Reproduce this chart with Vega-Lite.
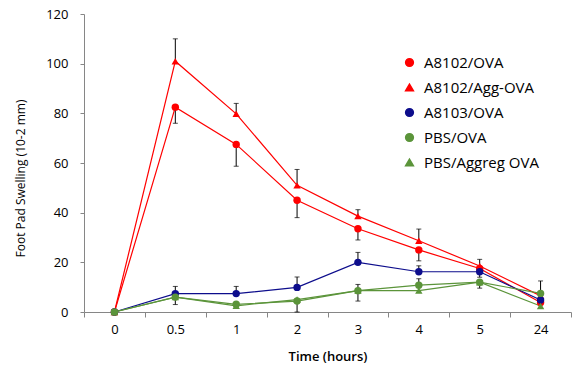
{
  "$schema": "https://vega.github.io/schema/vega-lite/v6.json",
  "autosize": {"type": "none"},
  "padding": {"left": 84, "top": 14, "right": 14, "bottom": 58},
  "width": 487,
  "height": 298,
  "config": {
    "view": {"stroke": null},
    "font": "Open Sans",
    "axis": {"labelFont": "Open Sans", "titleFont": "Open Sans", "labelColor": "#000000", "titleColor": "#000000", "domainColor": "#868686", "tickColor": "#868686", "grid": false}
  },
  "data": {
    "values": [
      {"series": "A8102/OVA", "t": "0", "v": 0, "lo": 0, "hi": 0},
      {"series": "A8102/OVA", "t": "0.5", "v": 82.5, "lo": 76, "hi": 82.5},
      {"series": "A8102/OVA", "t": "1", "v": 67.5, "lo": 58.7, "hi": 67.5},
      {"series": "A8102/OVA", "t": "2", "v": 45, "lo": 38, "hi": 45},
      {"series": "A8102/OVA", "t": "3", "v": 33.5, "lo": 29, "hi": 33.5},
      {"series": "A8102/OVA", "t": "4", "v": 25, "lo": 20.6, "hi": 25},
      {"series": "A8102/OVA", "t": "5", "v": 17.5, "lo": 17.5, "hi": 17.5},
      {"series": "A8102/OVA", "t": "24", "v": 3.8, "lo": 3.8, "hi": 3.8},
      {"series": "A8102/Agg-OVA", "t": "0", "v": 0, "lo": 0, "hi": 0},
      {"series": "A8102/Agg-OVA", "t": "0.5", "v": 101, "lo": 101, "hi": 110},
      {"series": "A8102/Agg-OVA", "t": "1", "v": 79.8, "lo": 79.8, "hi": 84},
      {"series": "A8102/Agg-OVA", "t": "2", "v": 51, "lo": 51, "hi": 57.4},
      {"series": "A8102/Agg-OVA", "t": "3", "v": 38.6, "lo": 38.6, "hi": 41.2},
      {"series": "A8102/Agg-OVA", "t": "4", "v": 28.7, "lo": 28.7, "hi": 33.4},
      {"series": "A8102/Agg-OVA", "t": "5", "v": 18.5, "lo": 18.5, "hi": 21.2},
      {"series": "A8102/Agg-OVA", "t": "24", "v": 6.5, "lo": 6.5, "hi": 6.5},
      {"series": "A8103/OVA", "t": "0", "v": 0, "lo": 0, "hi": 0},
      {"series": "A8103/OVA", "t": "0.5", "v": 7.4, "lo": 7.4, "hi": 10.3},
      {"series": "A8103/OVA", "t": "1", "v": 7.4, "lo": 7.4, "hi": 10.3},
      {"series": "A8103/OVA", "t": "2", "v": 9.9, "lo": 9.9, "hi": 14.1},
      {"series": "A8103/OVA", "t": "3", "v": 20, "lo": 20, "hi": 24},
      {"series": "A8103/OVA", "t": "4", "v": 16.2, "lo": 16.2, "hi": 18.6},
      {"series": "A8103/OVA", "t": "5", "v": 16.2, "lo": 14, "hi": 16.2},
      {"series": "A8103/OVA", "t": "24", "v": 4.8, "lo": 4.8, "hi": 4.8},
      {"series": "PBS/OVA", "t": "0", "v": 0, "lo": 0, "hi": 0},
      {"series": "PBS/OVA", "t": "0.5", "v": 6, "lo": 3, "hi": 6},
      {"series": "PBS/OVA", "t": "1", "v": 3.1, "lo": 1.5, "hi": 3.1},
      {"series": "PBS/OVA", "t": "2", "v": 4.4, "lo": 0, "hi": 4.4},
      {"series": "PBS/OVA", "t": "3", "v": 8.6, "lo": 8.6, "hi": 11.1},
      {"series": "PBS/OVA", "t": "4", "v": 10.8, "lo": 10.8, "hi": 13.4},
      {"series": "PBS/OVA", "t": "5", "v": 12, "lo": 9.6, "hi": 12},
      {"series": "PBS/OVA", "t": "24", "v": 7.5, "lo": 7.5, "hi": 12.5},
      {"series": "PBS/Aggreg OVA", "t": "0", "v": 0, "lo": 0, "hi": 0},
      {"series": "PBS/Aggreg OVA", "t": "0.5", "v": 6, "lo": 6, "hi": 6},
      {"series": "PBS/Aggreg OVA", "t": "1", "v": 2.5, "lo": 2.5, "hi": 2.5},
      {"series": "PBS/Aggreg OVA", "t": "2", "v": 5, "lo": 5, "hi": 5},
      {"series": "PBS/Aggreg OVA", "t": "3", "v": 8.6, "lo": 4.4, "hi": 8.6},
      {"series": "PBS/Aggreg OVA", "t": "4", "v": 8.6, "lo": 8.6, "hi": 8.6},
      {"series": "PBS/Aggreg OVA", "t": "5", "v": 12, "lo": 12, "hi": 12},
      {"series": "PBS/Aggreg OVA", "t": "24", "v": 2.4, "lo": 2.4, "hi": 2.4}
    ]
  },
  "encoding": {
    "x": {
      "field": "t", "type": "ordinal",
      "scale": {"type": "band", "domain": ["0", "0.5", "1", "2", "3", "4", "5", "24"], "paddingInner": 0, "paddingOuter": 0},
      "axis": {"title": "Time (hours)", "labelAngle": 0, "tickBand": "extent", "tickSize": 5, "labelPadding": 6, "labelFontSize": 13, "titleFontSize": 13, "titleFontWeight": 600, "titlePadding": 14}
    }
  },
  "layer": [
    {
      "mark": {"type": "line", "strokeWidth": 1.2},
      "encoding": {
        "y": {"field": "v", "type": "quantitative"},
        "color": {"field": "series", "type": "nominal"},
        "detail": {"field": "series"}
      }
    },
    {
      "mark": {"type": "rule", "color": "#000000", "strokeWidth": 1},
      "encoding": {
        "y": {"field": "lo", "type": "quantitative"},
        "y2": {"field": "hi"}
      }
    },
    {
      "transform": [{"filter": "datum.hi > datum.v"}],
      "mark": {"type": "tick", "color": "#000000", "thickness": 1, "size": 5, "orient": "horizontal"},
      "encoding": {"y": {"field": "hi", "type": "quantitative"}}
    },
    {
      "transform": [{"filter": "datum.lo < datum.v"}],
      "mark": {"type": "tick", "color": "#000000", "thickness": 1, "size": 5, "orient": "horizontal"},
      "encoding": {"y": {"field": "lo", "type": "quantitative"}}
    },
    {
      "mark": {"type": "point", "filled": true, "opacity": 1, "size": 55},
      "encoding": {
        "y": {
          "field": "v", "type": "quantitative",
          "scale": {"domain": [0, 120]},
          "axis": {"title": "Foot Pad Swelling (10-2 mm)", "values": [0, 20, 40, 60, 80, 100, 120], "tickSize": 4, "labelPadding": 12, "labelFontSize": 13, "titleFontSize": 12, "titleFontWeight": "normal", "titlePadding": 18, "titleY": 164}
        },
        "color": {
          "field": "series", "type": "nominal",
          "scale": {"domain": ["A8102/OVA", "A8102/Agg-OVA", "A8103/OVA", "PBS/OVA", "PBS/Aggreg OVA"], "range": ["#ff0000", "#ff0000", "#0d0d8c", "#5b943a", "#5b943a"]},
          "legend": {
            "title": null, "orient": "none", "legendX": 318, "legendY": 41, "padding": 0,
            "symbolSize": 60, "labelFontSize": 15, "labelFont": "Open Sans", "labelColor": "#000000", "rowPadding": 9, "labelOffset": 7
          }
        },
        "shape": {
          "field": "series", "type": "nominal",
          "scale": {"domain": ["A8102/OVA", "A8102/Agg-OVA", "A8103/OVA", "PBS/OVA", "PBS/Aggreg OVA"], "range": ["circle", "triangle-up", "circle", "circle", "triangle-up"]}
        }
      }
    }
  ]
}
